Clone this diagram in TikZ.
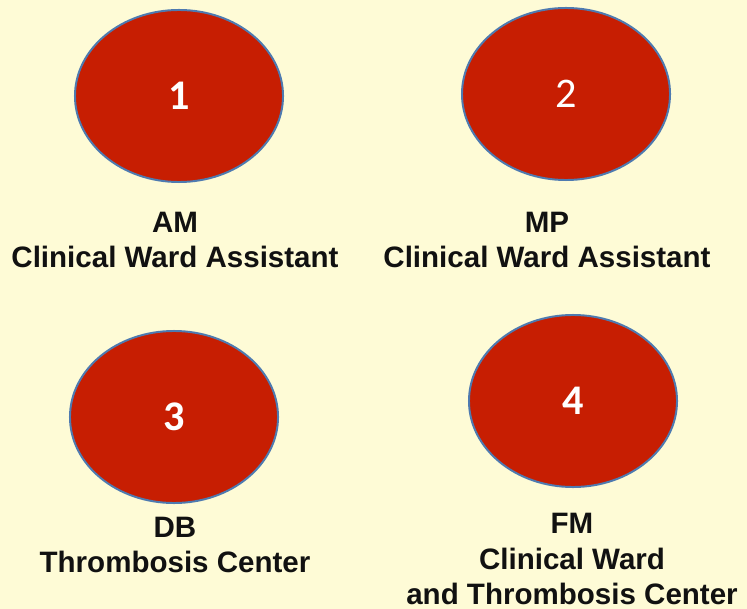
\documentclass[tikz,border=0pt]{standalone}
\usepackage{fontspec}
\setmainfont{Liberation Sans}
\newfontfamily\numfont{Carlito}
\usetikzlibrary{shapes.geometric,positioning}
\definecolor{Paper}{HTML}{FEFBD6}
\definecolor{Brick}{HTML}{C71E02}
\definecolor{Rim}{HTML}{4E7AB0}
\definecolor{Ink}{HTML}{111111}
\tikzset{
  person/.style={ellipse,fill=Brick,draw=Rim,line width=1.4pt,
    minimum width=5.2cm,minimum height=4.3cm,text=white,
    font=\numfont\fontsize{30}{32}\selectfont},
  role/.style={align=center,text=Ink,
    font=\bfseries\fontsize{21}{25}\selectfont}
}
\begin{document}
\begin{tikzpicture}[x=0.025cm,y=-0.025cm]
  \fill[Paper] (0,0) rectangle (747,609);
  \useasboundingbox (0,0) rectangle (747,609);
  % the four staff members
  \node[person] (p1) at (179,96) {\bfseries 1};
  \node[person] (p2) at (566,94) {2};
  \node[person] (p3) at (174,417) {\bfseries 3};
  \node[person] (p4) at (573,401) {\bfseries 4};
  % names and roles
  \node[role] (r1) at (175,240) {AM\\Clinical Ward Assistant};
  \node[role] (r2) at (547,240) {MP\\Clinical Ward Assistant};
  \node[role] (r3) at (175,545) {DB\\Thrombosis Center};
  \node[role] (r4) at (572,559) {FM\\Clinical Ward\\and Thrombosis Center};
\end{tikzpicture}
\end{document}
